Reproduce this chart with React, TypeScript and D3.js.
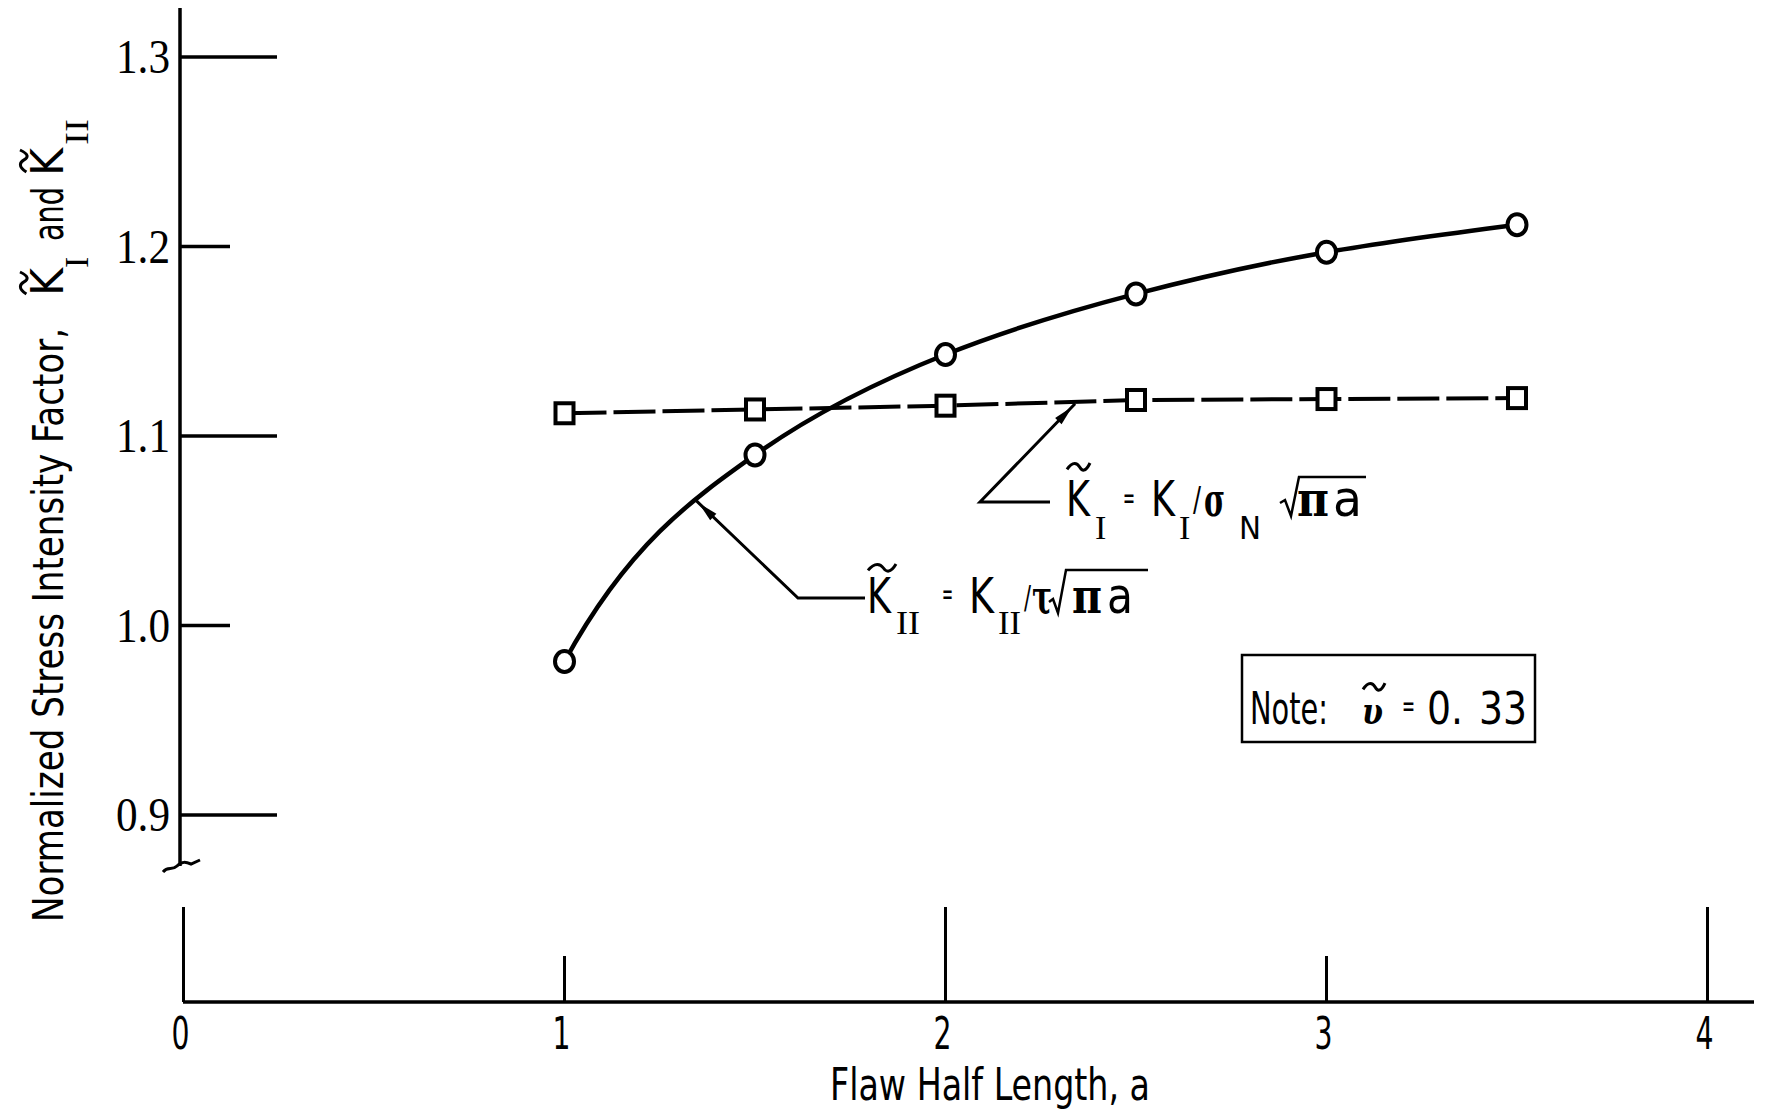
import React from 'react';
import * as d3 from 'd3';

// data
const flawHalfLength = [1, 1.5, 2, 2.5, 3, 3.5];
const kITilde = [1.112, 1.114, 1.116, 1.119, 1.1195, 1.12];
const kIITilde = [0.981, 1.09, 1.143, 1.175, 1.197, 1.2115];
const xTickValues = [0, 1, 2, 3, 4];
const yTickValues = [0.9, 1.0, 1.1, 1.2, 1.3];
const yTickLabels = ['0.9', '1.0', '1.1', '1.2', '1.3'];

// where the two leader arrows touch their curves (data units)
const kIArrowAt: [number, number] = [2.34, 1.117];
const kIIArrowAt: [number, number] = [1.345, 1.066];

const W = 1765;
const H = 1113;
const SANS = "'DejaVu Sans Condensed', 'DejaVu Sans', sans-serif";
const SERIF = "'Liberation Serif', 'DejaVu Serif', serif";
const GREEK = "'DejaVu Serif', serif";

const x = d3.scaleLinear().domain([0, 4]).range([183.5, 1707.5]);
const y = d3.scaleLinear().domain([0.9, 1.3]).range([815, 57]);

// hand-drawn looking fit through the points: hermite segments,
// harmonic-mean slopes inside, steep start like the french-curve original
function fitPath(xs: number[], ys: number[]) {
  const n = xs.length;
  const s = d3.range(n - 1).map((i) => (ys[i + 1] - ys[i]) / (xs[i + 1] - xs[i]));
  const t = new Array(n).fill(0);
  for (let i = 1; i < n - 1; i++) {
    t[i] = s[i - 1] * s[i] > 0 ? 2 / (1 / s[i - 1] + 1 / s[i]) : 0;
  }
  t[0] = 3 * s[0] - 2 * t[1];
  t[n - 1] = (3 * s[n - 2] - t[n - 2]) / 2;
  const p = d3.path();
  p.moveTo(x(xs[0]), y(ys[0]));
  for (let i = 0; i < n - 1; i++) {
    const h = xs[i + 1] - xs[i];
    p.bezierCurveTo(
      x(xs[i] + h / 3), y(ys[i] + (t[i] * h) / 3),
      x(xs[i + 1] - h / 3), y(ys[i + 1] - (t[i + 1] * h) / 3),
      x(xs[i + 1]), y(ys[i + 1])
    );
  }
  return p.toString();
}

const kILine = d3
  .line<number>()
  .x((_, i) => x(flawHalfLength[i]))
  .y((d) => y(d));

function T({ x, y, size, w, children, weight, italic, family, anchor }: any) {
  return (
    <text
      x={x}
      y={y}
      fontSize={size}
      fontFamily={family || SANS}
      fontWeight={weight || 'normal'}
      fontStyle={italic ? 'italic' : 'normal'}
      textAnchor={anchor || 'start'}
      textLength={w}
      lengthAdjust={w ? 'spacingAndGlyphs' : undefined}
      fill="#000"
    >
      {children}
    </text>
  );
}

// small hand-drawn tilde
function tilde(x0: number, x1: number, cy: number, amp = 4) {
  const w = x1 - x0;
  return `M${x0},${cy + amp * 0.6} C${x0 + w * 0.25},${cy - amp * 1.6} ${x0 + w * 0.45},${cy - amp} ${x0 + w * 0.55},${cy} S${x0 + w * 0.8},${cy + amp * 1.4} ${x1},${cy - amp}`;
}

function arrow(fromX: number, fromY: number, tipX: number, tipY: number) {
  const ang = Math.atan2(tipY - fromY, tipX - fromX);
  const back = 4;
  const len = 20;
  const hw = 4.5;
  const tx = tipX - Math.cos(ang) * back;
  const ty = tipY - Math.sin(ang) * back;
  const bx = tx - Math.cos(ang) * len;
  const by = ty - Math.sin(ang) * len;
  const px = -Math.sin(ang) * hw;
  const py = Math.cos(ang) * hw;
  return `M${tx},${ty} L${bx + px},${by + py} L${bx - px},${by - py} Z`;
}

export default function App() {
  const kITip = [x(kIArrowAt[0]), y(kIArrowAt[1])];
  const kIITip = [x(kIIArrowAt[0]), y(kIIArrowAt[1])];

  return (
    <svg
      width={W}
      height={H}
      style={{ position: 'absolute', left: 0, top: 0, display: 'block', background: '#fff' }}
    >
      <rect width={W} height={H} fill="#fff" />

      {/* y axis with break */}
      <line x1={180} y1={8} x2={180} y2={866} stroke="#000" strokeWidth={3.5} />
      <path
        d="M163,872 C168,866 172,871 177,866 S186,862 191,864 L200,860"
        fill="none"
        stroke="#000"
        strokeWidth={3}
      />
      {yTickValues.map((v, i) => (
        <g key={v}>
          <line
            x1={180}
            x2={180 + (i % 2 === 0 ? 97 : 50)}
            y1={y(v)}
            y2={y(v)}
            stroke="#000"
            strokeWidth={3.5}
          />
          <T x={170} y={y(v) + 16} size={48} family={SERIF} anchor="end" w={54}>
            {yTickLabels[i]}
          </T>
        </g>
      ))}

      {/* y axis title, rotated */}
      <g transform="translate(63,0) rotate(-90)">
        <T x={-922} y={0} size={43} w={594}>
          Normalized Stress Intensity Factor,
        </T>
        <T x={-296} y={0} size={44} w={28}>K</T>
        <T x={-268} y={25} size={34} family={SERIF}>I</T>
        <T x={-241} y={0} size={43} w={54}>and</T>
        <T x={-176} y={0} size={44} w={28}>K</T>
        <T x={-145} y={25} size={34} w={26} family={SERIF}>II</T>
        <path d={tilde(-294, -272, -39)} fill="none" stroke="#000" strokeWidth={3} />
        <path d={tilde(-172, -150, -39)} fill="none" stroke="#000" strokeWidth={3} />
      </g>

      {/* x axis */}
      <line x1={183} y1={1002} x2={1754} y2={1002} stroke="#000" strokeWidth={3.5} />
      {xTickValues.map((v, i) => (
        <g key={v}>
          <line
            x1={x(v)}
            x2={x(v)}
            y1={1002}
            y2={1002 - (i % 2 === 0 ? 95 : 46)}
            stroke="#000"
            strokeWidth={3}
          />
          <T x={x(v) - 3} y={1049} size={44} anchor="middle" w={18}>
            {String(v)}
          </T>
        </g>
      ))}
      <T x={830} y={1100} size={44} w={320}>
        Flaw Half Length,  a
      </T>

      {/* curves */}
      <path d={kILine(kITilde) || ''} fill="none" stroke="#000" strokeWidth={4} strokeDasharray="42 7" />
      <path d={fitPath(flawHalfLength, kIITilde)} fill="none" stroke="#000" strokeWidth={4.5} />

      {kITilde.map((v, i) => (
        <rect
          key={'s' + i}
          x={x(flawHalfLength[i]) - 9}
          y={y(v) - 10}
          width={18}
          height={20}
          fill="#fff"
          stroke="#000"
          strokeWidth={4}
        />
      ))}
      {kIITilde.map((v, i) => (
        <ellipse
          key={'c' + i}
          cx={x(flawHalfLength[i])}
          cy={y(v)}
          rx={9.5}
          ry={10.5}
          fill="#fff"
          stroke="#000"
          strokeWidth={4}
        />
      ))}

      {/* K_I annotation */}
      <polyline
        points={`1050,502 980,502 ${kITip[0]},${kITip[1]}`}
        fill="none"
        stroke="#000"
        strokeWidth={3}
      />
      <path d={arrow(980, 502, kITip[0], kITip[1])} fill="#000" />
      <path d={tilde(1067, 1090, 467)} fill="none" stroke="#000" strokeWidth={3} />
      <T x={1066} y={516} size={50} w={24}>K</T>
      <T x={1095} y={539} size={34} family={SERIF}>I</T>
      <T x={1123} y={508} size={30} w={12}>=</T>
      <T x={1151} y={516} size={50} w={24}>K</T>
      <T x={1179} y={539} size={34} family={SERIF}>I</T>
      <T x={1193} y={511} size={34} w={8}>/</T>
      <T x={1204} y={516} size={46} w={21} weight="bold" family={GREEK}>σ</T>
      <T x={1239} y={539} size={32} w={22}>N</T>
      <path d="M1280,503 L1285,500 L1291,516 L1299,477 L1366,477" fill="none" stroke="#000" strokeWidth={2.5} />
      <T x={1297} y={516} size={48} w={32} weight="bold" family={GREEK}>π</T>
      <T x={1333} y={516} size={50} w={29}>a</T>

      {/* K_II annotation */}
      <polyline
        points={`865,598 798,598 ${kIITip[0]},${kIITip[1]}`}
        fill="none"
        stroke="#000"
        strokeWidth={3}
      />
      <path d={arrow(798, 598, kIITip[0], kIITip[1])} fill="#000" />
      <path d={tilde(868, 896, 568)} fill="none" stroke="#000" strokeWidth={3} />
      <T x={867} y={613} size={50} w={24}>K</T>
      <T x={896} y={634} size={33} w={24} family={SERIF}>II</T>
      <T x={942} y={604} size={30} w={11}>=</T>
      <T x={969} y={613} size={50} w={25}>K</T>
      <T x={998} y={634} size={33} w={23} family={SERIF}>II</T>
      <T x={1024} y={608} size={32} w={7}>/</T>
      <T x={1032} y={613} size={46} w={20} weight="bold" family={GREEK}>τ</T>
      <path d="M1049,602 L1053,599 L1058,613 L1066,570 L1148,570" fill="none" stroke="#000" strokeWidth={2.5} />
      <T x={1072} y={613} size={48} w={30} weight="bold" family={GREEK}>π</T>
      <T x={1107} y={613} size={50} w={26}>a</T>

      {/* note box */}
      <rect x={1242} y={655} width={293} height={87} fill="none" stroke="#000" strokeWidth={2.5} />
      <T x={1250} y={724} size={44} w={78}>Note:</T>
      <path d={tilde(1363, 1385, 687)} fill="none" stroke="#000" strokeWidth={3} />
      <T x={1362} y={724} size={38} w={21} weight="bold" italic family={GREEK}>υ</T>
      <T x={1402} y={716} size={30} w={13}>=</T>
      <T x={1427} y={724} size={44} w={36}>0.</T>
      <T x={1479} y={724} size={44} w={48}>33</T>
    </svg>
  );
}
